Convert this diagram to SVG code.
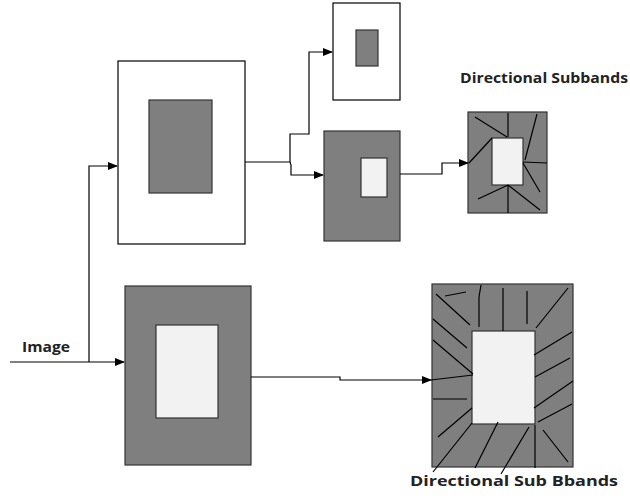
<svg xmlns="http://www.w3.org/2000/svg" width="630" height="500" viewBox="0 0 630 500">
<defs>
<marker id="ah" markerWidth="10" markerHeight="8" refX="9" refY="4" orient="auto" markerUnits="userSpaceOnUse">
<path d="M0,0 L10,4 L0,8 Z" fill="#000"/>
</marker>
<style>
.w{fill:#fff;stroke:#000;stroke-width:1.2}
.g{fill:#7f7f7f;stroke:#333;stroke-width:1.2}
.l{fill:#f2f2f2;stroke:#333;stroke-width:1.2}
.c{fill:none;stroke:#000;stroke-width:1.2}
.r{stroke:#000;stroke-width:1.2;fill:none}
.t{font-family:"Open Sans","Liberation Sans",sans-serif;font-weight:bold;font-size:15px;fill:#222}
</style>
</defs>
<rect width="630" height="500" fill="#fff"/>
<g id="big-top">
<rect class="w" x="118" y="61" width="127" height="183"/>
<rect class="g" x="149" y="100" width="63" height="93"/>
</g>
<g id="small-top">
<rect class="w" x="333" y="3" width="67" height="97"/>
<rect class="g" x="356" y="30" width="22" height="36"/>
</g>
<g id="mid">
<rect class="g" x="324" y="131" width="76" height="110"/>
<rect class="l" x="361" y="158" width="26" height="39"/>
</g>
<g id="dir-small">
<rect class="g" x="468" y="112" width="79" height="101"/>
<rect class="l" x="492" y="138" width="31" height="47"/>
<path class="r" d="M475,117 L507,137 M508,113 L508,137 M537,114 L525,160 M492,138 L469,163 M523,162 L547,163 M523,163 L540,192 M508,185 L478,199 M508,185 L508,213 M508,185 L540,210"/>
</g>
<g id="big-bottom">
<rect class="g" x="125" y="286" width="126" height="179"/>
<rect class="l" x="156" y="325" width="62" height="93"/>
</g>
<g id="dir-big">
<rect class="g" x="432" y="284" width="141" height="183"/>
<rect class="l" x="472" y="331" width="63" height="93"/>
<path class="r" d="M445,296 L466,292 M436,294 L470,325 M481,285 L479,297 L479,327 M503,288 L503,331 M527,291 L527,324 M568,288 L536,328 M433,319 L467,348 M433,340 L473,374 M433,399 L467,399 M472,408 L438,437 M472,423 L433,472 M498,422 L475,468 M529,427 L501,474 M535,425 L535,468 M543,430 L568,462 M538,422 L572,404 M534,408 L573,381 M535,377 L570,358 M534,355 L572,332"/>
</g>
<g id="connectors">
<path class="c" d="M10,362 L124,362" marker-end="url(#ah)"/>
<path class="c" d="M89,362 L89,166 L117,166" marker-end="url(#ah)"/>
<path class="c" d="M245,162 L290,162 L290,134 L309,134 L309,52 L332,52" marker-end="url(#ah)"/>
<path class="c" d="M290,162 L291,165 L291,175 L323,175" marker-end="url(#ah)"/>
<path class="c" d="M400,174 L442,174 L442,163 L468,163" marker-end="url(#ah)"/>
<path class="c" d="M251,377 L340,377 L340,380 L431,380" marker-end="url(#ah)"/>
<path class="c" d="M431,380 L473,375"/>
</g>
<text class="t" x="22" y="352" textLength="48" lengthAdjust="spacingAndGlyphs">Image</text>
<text class="t" x="460" y="83" textLength="168" lengthAdjust="spacingAndGlyphs">Directional Subbands</text>
<text class="t" x="410" y="486" textLength="208" lengthAdjust="spacingAndGlyphs">Directional Sub Bbands</text>
</svg>
